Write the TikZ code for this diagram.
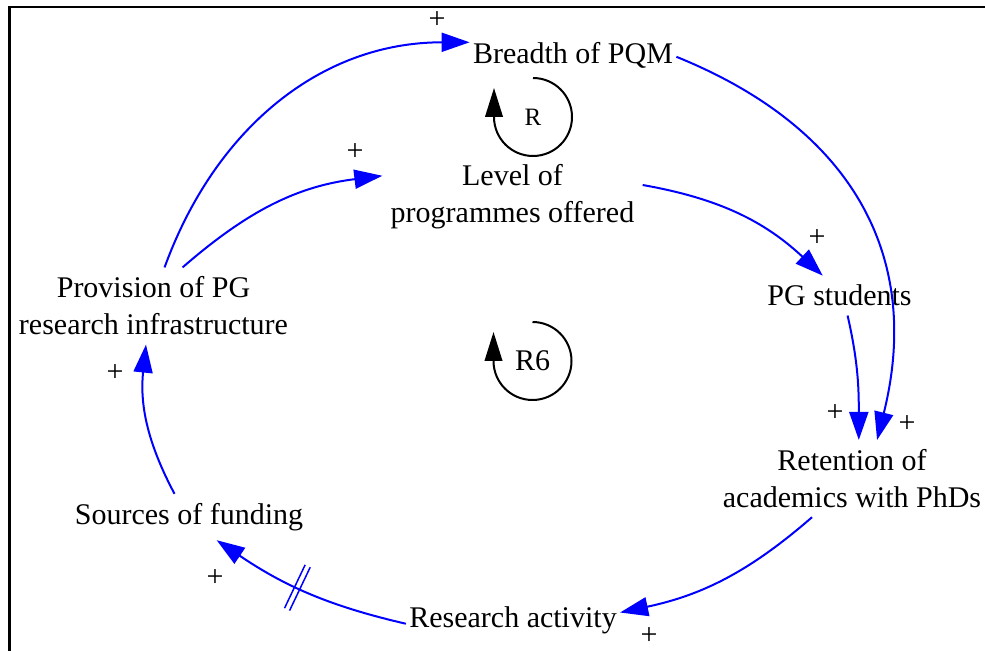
\documentclass[tikz,border=0pt]{standalone}
\usepackage{fontspec}
\setmainfont{Liberation Serif}
\usetikzlibrary{arrows.meta,decorations.markings}
\definecolor{linkblue}{RGB}{0,0,255}
\tikzset{
  var/.style={align=center, inner xsep=1.5pt, inner ysep=4.5pt,
              font=\fontsize{15}{18.5}\selectfont},
  sign/.style={inner sep=0pt, font=\fontsize{15}{18}\selectfont},
  link/.style={color=linkblue, line width=1pt,
               -{Triangle[length=14pt,width=9.5pt]}},
  loopline/.style={color=black, line width=1pt,
               -{Triangle[length=14.5pt,width=8.8pt]}},
  delaymark/.style={postaction={decorate, decoration={markings,
      mark=at position #1 with {\draw[linkblue, line width=0.75pt, -]
        (-1.4pt,-12pt) -- (-1.4pt,12pt) (1.4pt,-12pt) -- (1.4pt,12pt);}}}}
}
\begin{document}
\begin{tikzpicture}[x=0.5pt, y=-0.5pt]
\useasboundingbox (0,0) rectangle (985,651);
% frame
\draw[line width=1.25pt] (9.7,651) -- (9.7,7) -- (985,7);

% variables
\node[var] (breadth) at (573,55)      {Breadth of PQM};
\node[var, inner xsep=4pt] (level) at (512.5,196.4) {Level of\\programmes offered};
\node[var] (prov)    at (153.5,306)   {Provision of PG\\research infrastructure};
\node[var] (pgs)     at (839.5,295.6) {PG students};
\node[var] (ret)     at (852,478.6)   {Retention of\\academics with PhDs};
\node[var] (res)     at (513,620)     {Research activity};
\node[var] (src)     at (189,517)     {Sources of funding};

% loop identifiers
\node[inner sep=0pt, font=\fontsize{12.5}{15}\selectfont] (loopR) at (533,117) {R};
\node[inner sep=0pt, font=\fontsize{15}{18}\selectfont] (loopRsix) at (532.5,361) {R6};
\draw[loopline] ([yshift=19.5pt]loopR.center)
  arc[start angle=90, end angle=-180, radius=19.5pt] -- ++(0,-29);
\draw[loopline] ([yshift=19.5pt]loopRsix.center)
  arc[start angle=90, end angle=-180, radius=19.5pt] -- ++(0,-29);

% causal links
\draw[link] (prov.74)  to[out=70,in=180]  (breadth.173);
\draw[link] (prov.53)  to[out=41,in=187]  (level.171);
\draw[link] (breadth.359) to[out=-22,in=76,looseness=1.12] (ret.57);
\draw[link] (level.5)  to[out=-10,in=137] (pgs.130);
\draw[link] (pgs.292)  to[out=-77,in=90]  (ret.80);
\draw[link] (ret.224)  to[out=221,in=12]  (res.4);
\draw[link, delaymark=0.55] (res.182) to[out=167,in=-34] (src.320);
\draw[link] (src.122)  to[out=118,in=-96] (prov.259);

% polarities
\node[sign] (s1) at (437,20)  {+};
\node[sign] (s2) at (355,152) {+};
\node[sign] (s3) at (817,238) {+};
\node[sign] (s4) at (835,413) {+};
\node[sign] (s5) at (907,424) {+};
\node[sign] (s6) at (649,636) {+};
\node[sign] (s7) at (215,578) {+};
\node[sign] (s8) at (115,373) {+};
\end{tikzpicture}
\end{document}
